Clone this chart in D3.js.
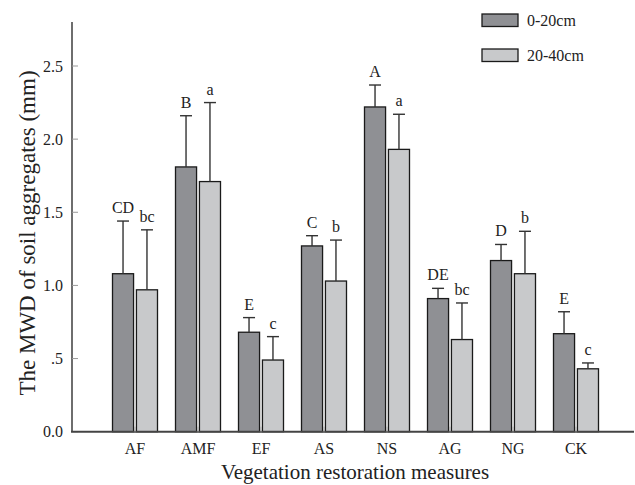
<!DOCTYPE html>
<html>
<head>
<meta charset="utf-8">
<script src="https://cdn.jsdelivr.net/npm/d3@7"></script>
<style>
  body { margin: 0; background: #fff; }
  svg text { font-family: "Liberation Serif", serif; fill: #222; }
</style>
</head>
<body>
<div id="chart"></div>
<script>
var categories = ["AF", "AMF", "EF", "AS", "NS", "AG", "NG", "CK"];
var seriesNames = ["0-20cm", "20-40cm"];
var topValues = [1.08, 1.81, 0.68, 1.27, 2.22, 0.91, 1.17, 0.67];
var topErrors = [0.36, 0.35, 0.10, 0.07, 0.15, 0.07, 0.11, 0.15];
var topLetters = ["CD", "B", "E", "C", "A", "DE", "D", "E"];
var subValues = [0.97, 1.71, 0.49, 1.03, 1.93, 0.63, 1.08, 0.43];
var subErrors = [0.41, 0.54, 0.16, 0.28, 0.24, 0.25, 0.29, 0.04];
var subLetters = ["bc", "a", "c", "b", "a", "bc", "b", "c"];
var yTicks = [0, 0.5, 1.0, 1.5, 2.0, 2.5];
var yTickLabels = ["0.0", ".5", "1.0", "1.5", "2.0", "2.5"];

var width = 635, height = 485;
var colors = ["#8f9094", "#c8c9cb"];

var svg = d3.select("#chart").append("svg")
    .attr("width", width)
    .attr("height", height);

var y = d3.scaleLinear().domain([0, 2.5]).range([431.7, 66]);
var x = d3.scaleBand().domain(categories).range([103.5, 607.5]).padding(0);
var sub = d3.scaleBand().domain([0, 1]).range([-22.5, 22.5]).paddingInner(0.12);

// data rows built from arrays
var rows = categories.map(function(c, i) {
    return [
        {cat: c, s: 0, v: topValues[i], e: topErrors[i], l: topLetters[i]},
        {cat: c, s: 1, v: subValues[i], e: subErrors[i], l: subLetters[i]}
    ];
});
var flat = [].concat.apply([], rows);

function cx(d) { return x(d.cat) + x.bandwidth() / 2 + sub(d.s) + sub.bandwidth() / 2; }

// y axis
var yAxis = svg.append("g").attr("transform", "translate(72,0)");
yAxis.append("line")
    .attr("x1", 0).attr("x2", 0).attr("y1", 22).attr("y2", y(0))
    .attr("stroke", "#6e6e6e").attr("stroke-width", 2);
yAxis.selectAll("line.tk").data(yTicks).enter().append("line")
    .attr("class", "tk")
    .attr("x1", 0).attr("x2", 6)
    .attr("y1", function(d) { return y(d); })
    .attr("y2", function(d) { return y(d); })
    .attr("stroke", "#999").attr("stroke-width", 1);
yAxis.selectAll("text").data(yTicks).enter().append("text")
    .attr("x", -9)
    .attr("y", function(d) { return y(d); })
    .attr("dy", "0.35em")
    .attr("text-anchor", "end")
    .style("font-size", "16px")
    .text(function(d, i) { return yTickLabels[i]; });

// bars
svg.selectAll("rect.bar").data(flat).enter().append("rect")
    .attr("class", "bar")
    .attr("x", function(d) { return x(d.cat) + x.bandwidth() / 2 + sub(d.s); })
    .attr("width", sub.bandwidth())
    .attr("y", function(d) { return y(d.v); })
    .attr("height", function(d) { return y(0) - y(d.v); })
    .attr("fill", function(d) { return colors[d.s]; })
    .attr("stroke", "#1a1a1a")
    .attr("stroke-width", 1.3);

// error bars
var err = svg.selectAll("g.err").data(flat).enter().append("g").attr("class", "err");
err.append("line")
    .attr("x1", cx).attr("x2", cx)
    .attr("y1", function(d) { return y(d.v); })
    .attr("y2", function(d) { return y(d.v + d.e); })
    .attr("stroke", "#333").attr("stroke-width", 1.4);
err.append("line")
    .attr("x1", function(d) { return cx(d) - 6; })
    .attr("x2", function(d) { return cx(d) + 6; })
    .attr("y1", function(d) { return y(d.v + d.e); })
    .attr("y2", function(d) { return y(d.v + d.e); })
    .attr("stroke", "#333").attr("stroke-width", 1.4);
err.append("text")
    .attr("x", cx)
    .attr("y", function(d) { return y(d.v + d.e) - 8; })
    .attr("text-anchor", "middle")
    .style("font-size", "16px")
    .text(function(d) { return d.l; });

// x axis
var xAxis = svg.append("g");
xAxis.append("line")
    .attr("x1", 71).attr("x2", 634).attr("y1", y(0)).attr("y2", y(0))
    .attr("stroke", "#444").attr("stroke-width", 2);
xAxis.selectAll("line.tk").data(categories).enter().append("line")
    .attr("class", "tk")
    .attr("x1", function(d) { return x(d) + x.bandwidth() / 2; })
    .attr("x2", function(d) { return x(d) + x.bandwidth() / 2; })
    .attr("y1", y(0)).attr("y2", y(0) - 5)
    .attr("stroke", "#aaa").attr("stroke-width", 1);
xAxis.selectAll("text").data(categories).enter().append("text")
    .attr("x", function(d) { return x(d) + x.bandwidth() / 2; })
    .attr("y", 454)
    .attr("text-anchor", "middle")
    .style("font-size", "16px")
    .text(function(d) { return d; });

// axis titles
svg.append("text")
    .attr("x", 355).attr("y", 479)
    .attr("text-anchor", "middle")
    .style("font-size", "21px")
    .text("Vegetation restoration measures");
svg.append("text")
    .attr("transform", "translate(35,233) rotate(-90)")
    .attr("text-anchor", "middle")
    .style("font-size", "23px")
    .text("The MWD of soil aggregates (mm)");

// legend
var legend = svg.selectAll("g.legend").data(seriesNames).enter().append("g")
    .attr("class", "legend")
    .attr("transform", function(d, i) { return "translate(482," + (14 + i * 35) + ")"; });
legend.append("rect")
    .attr("width", 36).attr("height", 12.5)
    .attr("fill", function(d, i) { return colors[i]; })
    .attr("stroke", "#1a1a1a").attr("stroke-width", 1.3);
legend.append("text")
    .attr("x", 45).attr("y", 12)
    .style("font-size", "16px")
    .text(function(d) { return d; });
</script>
</body>
</html>
